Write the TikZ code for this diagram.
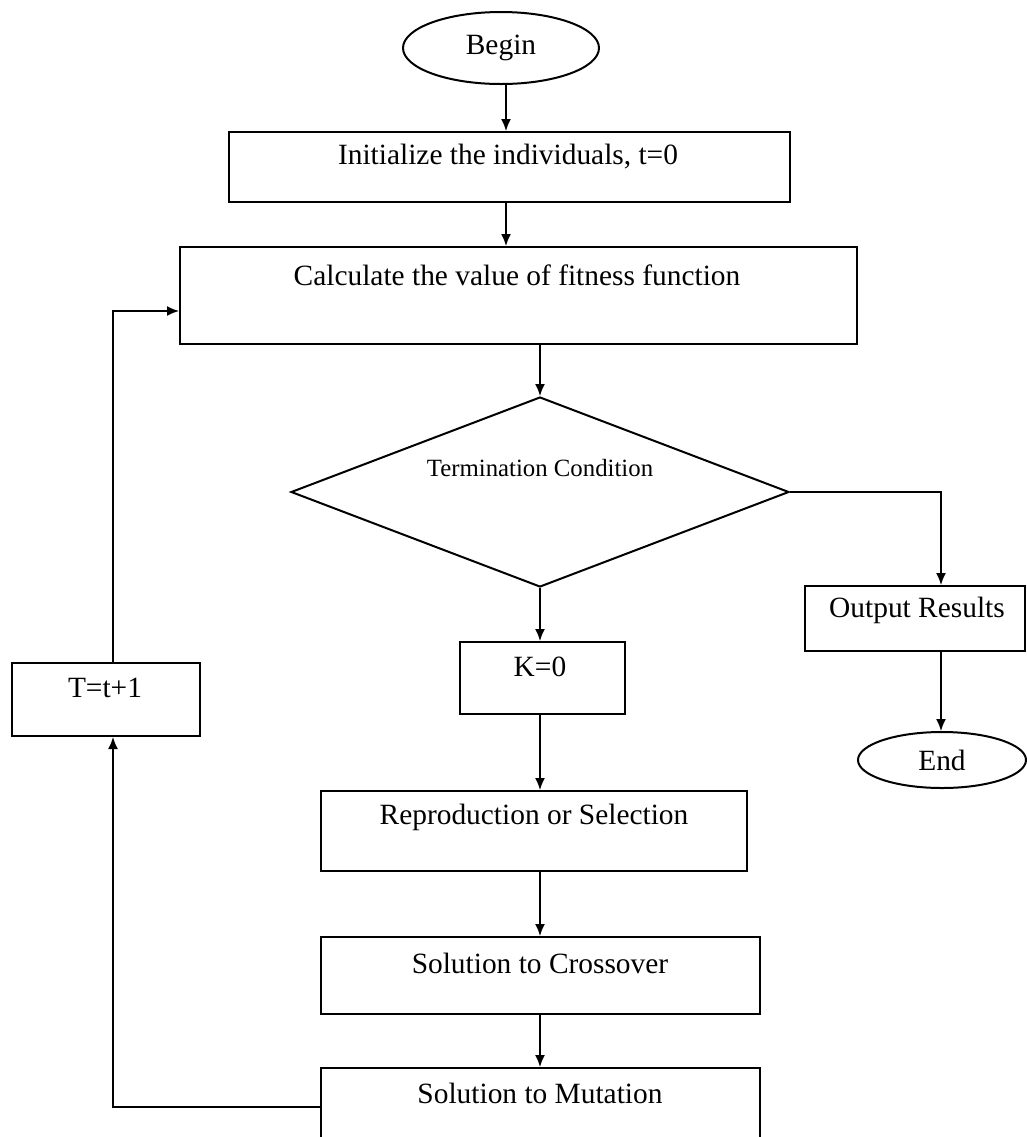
\documentclass[tikz,border=0pt]{standalone}
\usepackage{fontspec}
\setmainfont{Liberation Serif}
\usetikzlibrary{shapes.geometric,arrows.meta}
\begin{document}
\begin{tikzpicture}[x=0.5pt,y=-0.5pt,
  box/.style={draw,line width=1pt,rectangle,inner sep=0pt},
  oval/.style={draw,line width=1pt,ellipse,inner sep=0pt,font=\fontsize{14.7}{17}\selectfont},
  lbl/.style={inner sep=0pt,font=\fontsize{14.7}{17}\selectfont},
  smalllbl/.style={inner sep=0pt,font=\fontsize{12.4}{14}\selectfont},
  arr/.style={line width=0.8pt,-{Latex[length=6pt,width=5pt]}}]
\clip (0,0) rectangle (1027,1137);
\fill[white] (0,0) rectangle (1027,1137);

% column coordinates
\coordinate (c1) at (506,0);
\coordinate (c2) at (540,0);
\coordinate (c3) at (941,0);
\coordinate (c4) at (113,0);
\coordinate (loopbot) at (0,1107);
\coordinate (looptop) at (0,311);

% shapes
\node[oval,minimum width=98pt,minimum height=36pt] (begin) at (501,48) {Begin};
\node[box,minimum width=280.5pt,minimum height=35pt] (init) at (509.5,167) {};
\node[lbl] (tinit) at (508,157) {Initialize the individuals, t=0};
\node[box,minimum width=338.5pt,minimum height=48.5pt] (calc) at (518.5,295.5) {};
\node[lbl] (tcalc) at (517,275) {Calculate the value of fitness function};
\node[draw,line width=1pt,diamond,inner sep=0pt,minimum width=249pt,minimum height=95pt] (cond) at (540,492) {};
\node[smalllbl] (tcond) at (540,468) {Termination Condition};
\node[box,minimum width=82.5pt,minimum height=36pt] (k) at (542.5,678) {};
\node[lbl] (tk) at (540,667) {K=0};
\node[box,minimum width=213pt,minimum height=40pt] (repro) at (534,831) {};
\node[lbl] (trepro) at (534,817) {Reproduction or Selection};
\node[box,minimum width=219.5pt,minimum height=38.5pt] (cross) at (540.5,975.5) {};
\node[lbl] (tcross) at (540,963) {Solution to Crossover};
\node[box,minimum width=219.5pt,minimum height=38.5pt] (mut) at (540.5,1106.5) {};
\node[lbl] (tmut) at (540,1093) {Solution to Mutation};
\node[box,minimum width=94pt,minimum height=36.5pt] (t) at (106,699.5) {};
\node[lbl] (tt) at (105,688) {T=t+1};
\node[box,minimum width=110pt,minimum height=32.5pt] (out) at (915,618.5) {};
\node[lbl] (tout) at (917,610) {Output Results};
\node[oval,minimum width=84pt,minimum height=28pt] (end) at (942,760) {End};

% connectors
\draw[arr] (begin.south -| c1) -- (init.north -| c1);
\draw[arr] (init.south -| c1) -- (calc.north -| c1);
\draw[arr] (calc.south -| c2) -- (cond.north);
\draw[arr] (cond.south) -- (k.north -| cond.south);
\draw[arr] (k.south -| c2) -- (repro.north -| c2);
\draw[arr] (repro.south -| c2) -- (cross.north -| c2);
\draw[arr] (cross.south -| c2) -- (mut.north -| c2);
\draw[arr] (cond.east) -| (out.north -| c3);
\draw[arr] (out.south -| c3) -- (end.north -| c3);
\draw[arr] (mut.west |- loopbot) -| (t.south -| c4);
\draw[arr] (t.north -| c4) |- (calc.west |- looptop);
\end{tikzpicture}
\end{document}
